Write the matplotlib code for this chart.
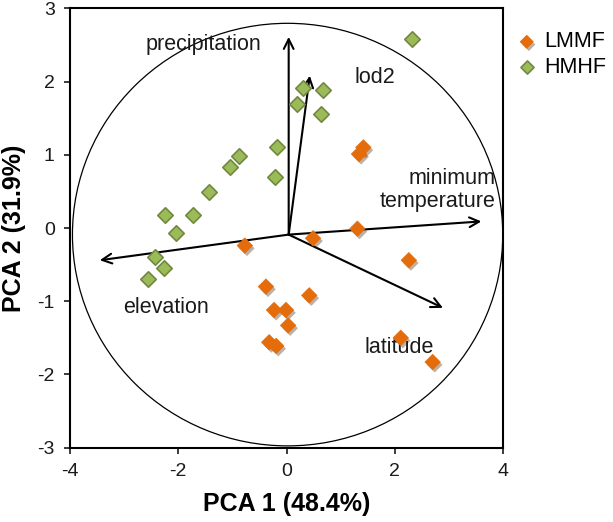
import matplotlib
matplotlib.use("Agg")
import matplotlib.pyplot as plt
import matplotlib.patheffects as pe
from matplotlib.patches import Ellipse

plt.rcParams['font.family'] = ['Liberation Sans', 'DejaVu Sans']
plt.rcParams['axes.unicode_minus'] = False

# Scores
lmmf_x = [1.42, 1.34, 1.31, -0.77, 0.49, 2.26, -0.38, 0.42, -0.23, -0.01, 0.03, -0.32, -0.19, 2.11, 2.70]
lmmf_y = [1.10, 1.01, -0.01, -0.24, -0.14, -0.44, -0.80, -0.92, -1.12, -1.12, -1.33, -1.56, -1.61, -1.50, -1.83]
hmhf_x = [2.32, 0.31, 0.67, 0.20, 0.63, -0.18, -0.21, -0.88, -1.04, -1.43, -1.73, -2.24, -2.04, -2.43, -2.27, -2.55]
hmhf_y = [2.58, 1.91, 1.89, 1.70, 1.55, 1.10, 0.69, 0.99, 0.83, 0.49, 0.18, 0.18, -0.07, -0.40, -0.54, -0.70]

# Loadings (arrow tips)
origin = (0.04, -0.09)
vec_names = ['precipitation', 'lod2', 'minimum\ntemperature', 'elevation', 'latitude']
vec_x = [0.04, 0.43, 3.60, -3.45, 2.89]
vec_y = [2.61, 2.08, 0.09, -0.44, -1.09]
lab_x = [-1.54, 1.63, 3.87, -2.22, 2.09]
lab_y = [2.50, 2.05, 0.52, -1.09, -1.63]
lab_ha = ['center', 'center', 'right', 'center', 'center']

fig = plt.figure(figsize=(6.13, 5.22), dpi=100)
ax = fig.add_axes([0.1142, 0.1423, 0.7064, 0.8418])

ax.add_patch(Ellipse((0.02, -0.09), 7.95, 5.77, fill=False, edgecolor='black', linewidth=0.9))

for vx, vy in zip(vec_x, vec_y):
    ax.annotate('', xy=(vx, vy), xytext=origin,
                arrowprops=dict(arrowstyle='->,head_length=0.7,head_width=0.35', color='black', lw=1.5,
                                shrinkA=0, shrinkB=0))
for name, tx, ty, ha in zip(vec_names, lab_x, lab_y, lab_ha):
    ax.text(tx, ty, name, ha=ha, va='center', fontsize=15.5, color='#1a1a1a', linespacing=1.1)

ax.scatter(lmmf_x, lmmf_y, marker='D', s=62, color='#E46C0A', edgecolors='#E46C0A', linewidths=0.5,
           label='LMMF', zorder=3,
           path_effects=[pe.SimplePatchShadow(offset=(1.5, -2), alpha=0.35), pe.Normal()])
ax.scatter(hmhf_x, hmhf_y, marker='D', s=62, color='#9BBB59', edgecolors='#71893F', linewidths=1.2,
           label='HMHF', zorder=3)

ax.set_xlim(-4, 4)
ax.set_ylim(-3, 3)
ax.set_xticks([-4, -2, 0, 2, 4])
ax.set_yticks([-3, -2, -1, 0, 1, 2, 3])
ax.tick_params(direction='out', length=4, width=1.2, labelsize=14, colors='#1a1a1a', pad=7)
for s in ax.spines.values():
    s.set_linewidth(1.5)

ax.set_xlabel('PCA 1 (48.4%)', fontsize=18, fontweight='bold', labelpad=9)
ax.set_ylabel('PCA 2 (31.9%)', fontsize=18, fontweight='bold', labelpad=8)

leg = ax.legend(loc='upper left', bbox_to_anchor=(1.015, 0.967), frameon=False, fontsize=15.5,
                handlelength=0.8, handletextpad=0.4, markerscale=0.85, labelspacing=0.2,
                borderaxespad=0.0, borderpad=0.4)

fig.savefig('out.png', dpi=100)
